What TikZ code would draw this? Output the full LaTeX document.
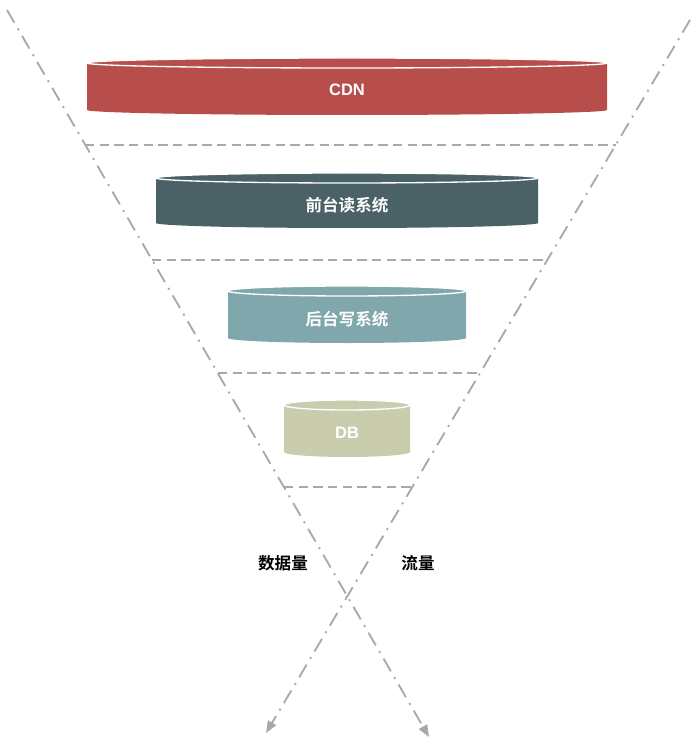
\documentclass[tikz,border=0pt]{standalone}
\usepackage{fontspec}
\setmainfont{Liberation Sans}
\newfontfamily\cjk{Noto Sans CJK SC}[BoldFont={Noto Sans CJK SC Bold}]
\usetikzlibrary{arrows.meta}

\definecolor{cdnred}{HTML}{B84E4B}
\definecolor{frontslate}{HTML}{4A6165}
\definecolor{backteal}{HTML}{80A7AB}
\definecolor{dbolive}{HTML}{CACDAD}
\definecolor{guidegray}{HTML}{A9A9A9}

% tier: colour, centre x, top y, bottom y, half width
\newcommand{\tier}[5]{%
	\fill[#1] (#2-#5,#3) -- (#2-#5,#4) arc[start angle=180, end angle=0, x radius=#5, y radius=5] -- (#2+#5,#3) -- cycle;
	\filldraw[fill=#1, draw=white, line width=1pt] (#2,#3) ellipse[x radius=#5, y radius=5];
}

\tikzset{
	guide/.style={draw=guidegray, line width=1.4pt, dash pattern=on 11pt off 5pt on 1.5pt off 5pt, -{Triangle[length=9pt,width=7pt,fill=guidegray]}},
	level/.style={draw=guidegray, line width=1.4pt, dash pattern=on 7pt off 4pt},
	tierlabel/.style={text=white, font=\bfseries\fontsize{12.4}{15}\selectfont},
	sidelabel/.style={text=black, font=\cjk\bfseries\fontsize{12.4}{15}\selectfont}
}

\begin{document}
\begin{tikzpicture}[x=0.75pt, y=-0.75pt]
	\useasboundingbox (0,0) rectangle (690,748);
	% funnel sides
	\coordinate (lefttop) at (7,10);
	\coordinate (leftend) at (429,737);
	\coordinate (righttop) at (690,20);
	\coordinate (rightend) at (266,733);
	\draw[guide] (lefttop) -- (leftend);
	\draw[guide] (righttop) -- (rightend);
	% levels
	\foreach \y/\xl/\xr in {145/85/616, 260/152/547, 373/218/480, 487/284/412}
		\draw[level] (\xl,\y) -- (\xr,\y);
	% tiers
	\tier{cdnred}{347}{63}{110}{260}
	\tier{frontslate}{347}{178}{223}{191}
	\tier{backteal}{347}{291}{338}{119}
	\tier{dbolive}{347}{405}{452}{63}
	\node[tierlabel] (cdn) at (347,90) {CDN};
	\node[tierlabel, font=\cjk\bfseries\fontsize{12.4}{15}\selectfont] (front) at (347,205) {前台读系统};
	\node[tierlabel, font=\cjk\bfseries\fontsize{12.4}{15}\selectfont] (back) at (347,319) {后台写系统};
	\node[tierlabel] (db) at (347,433) {DB};
	\node[sidelabel] (data) at (283,563) {数据量};
	\node[sidelabel] (traffic) at (418,563) {流量};
\end{tikzpicture}
\end{document}
